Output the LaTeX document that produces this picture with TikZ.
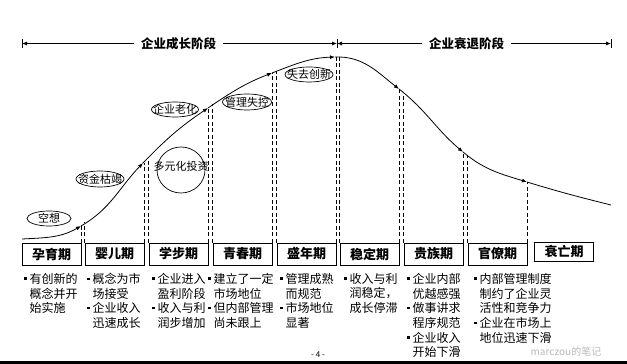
\documentclass[tikz,border=0pt]{standalone}
\usepackage{fontspec}
\setmainfont{Noto Sans CJK SC}
\usetikzlibrary{arrows.meta,shapes.geometric}
\newcommand\mybul{\makebox[5.5pt][l]{\raisebox{3.5pt}{\rule{2.4pt}{2.4pt}}}}
\newcommand\myind{\hspace*{5.5pt}}
\begin{document}
\begin{tikzpicture}[x=1pt,y=1pt,
  curveline/.style={line width=0.8pt},
  tipped/.style={curveline,-{Latex[length=5pt,width=4pt]}},
  guide/.style={line width=0.7pt, dash pattern=on 4pt off 2.5pt},
  stagebox/.style={draw, line width=0.9pt, minimum width=59pt, minimum height=22pt, inner sep=0pt, font=\fontsize{13}{13}\selectfont\bfseries},
  oval/.style={draw, ellipse, line width=0.7pt, inner sep=0pt},
  ovaltext/.style={inner sep=0pt, font=\fontsize{11}{11}\selectfont},
  desc/.style={anchor=north west, inner sep=0pt, align=left, font=\fontsize{12}{14.7}\selectfont},
  phase/.style={inner xsep=7pt, inner ysep=0pt, font=\fontsize{12.5}{12.5}\selectfont\bfseries},
  dimline/.style={line width=0.8pt, -{Latex[length=5pt,width=4pt]}},
  dimbar/.style={line width=0.8pt},
]
\useasboundingbox (0,0) rectangle (627,364);
\fill[white] (0,0) rectangle (627,364);
\fill[black] (0,0) rectangle (627,3);

% top phase dimension lines
\coordinate (L) at (22,320.5);
\coordinate (M) at (337,320.5);
\coordinate (R) at (611,320.5);
\node[phase] (T1) at (178.5,320.5) {企业成长阶段};
\node[phase] (T2) at (466.5,320.5) {企业衰退阶段};
\draw[dimline] (T1.west) -- (L);
\draw[dimline] (T1.east) -- (M);
\draw[dimline] (T2.west) -- (M);
\draw[dimline] (T2.east) -- (R);
\draw[dimbar] ([yshift=-4.5pt]L) -- ([yshift=4.5pt]L);
\draw[dimbar] ([yshift=-4.5pt]M) -- ([yshift=4.5pt]M);
\draw[dimbar] ([yshift=-4.5pt]R) -- ([yshift=4.5pt]R);

% curve points
\coordinate (P0) at (22,125);
\coordinate (P1) at (81,138);
\coordinate (P2) at (143,201);
\coordinate (P3) at (208,256);
\coordinate (P4) at (272,291);
\coordinate (P5) at (335,307);
\coordinate (P6) at (399,275);
\coordinate (P7) at (463,212);
\coordinate (P8) at (527,182);
\coordinate (P9) at (611,159);

\draw[tipped] (P0) to[out=3,in=210] (P1);
\draw[tipped] (P1) to[out=30,in=226] (P2);
\draw[tipped] (P2) to[out=46,in=214] (P3);
\draw[tipped] (P3) to[out=34,in=201] (P4);
\draw[tipped] (P4) to[out=21,in=182] (P5);
\draw[tipped] (P5) to[out=2,in=142] (P6);
\draw[tipped] (P6) to[out=-38,in=140] (P7);
\draw[tipped] (P7) to[out=-40,in=163] (P8);
\draw[curveline] (P8) to[out=-17,in=166] (P9);

% stage boxes
\node[stagebox] (B1) at (51.5,110) {孕育期};
\node[stagebox] (B2) at (114.5,110) {婴儿期};
\node[stagebox] (B3) at (178.5,110) {学步期};
\node[stagebox] (B4) at (242.5,110) {青春期};
\node[stagebox] (B5) at (306.5,110) {盛年期};
\node[stagebox] (B6) at (369.5,110) {稳定期};
\node[stagebox] (B7) at (433.5,110) {贵族期};
\node[stagebox] (B8) at (497.5,110) {官僚期};
\node[stagebox, minimum height=19pt] (B9) at (564,112.5) {衰亡期};

% right-hand guide start points on the curve
\coordinate (Q1) at (86,142);
\coordinate (Q2) at (149,207);
\coordinate (Q3) at (213,259.5);
\coordinate (Q4) at (277,293);
\coordinate (Q5) at (340,307);
\coordinate (Q6) at (404,270);
\coordinate (Q7) at (468,209);

% dashed guides
\draw[guide] (B1.north east) -- (B1.north east |- P1);
\draw[guide] (B2.north west) -- (B2.north west |- Q1);
\draw[guide] (B2.north east) -- (B2.north east |- P2);
\draw[guide] (B3.north west) -- (B3.north west |- Q2);
\draw[guide] (B3.north east) -- (B3.north east |- P3);
\draw[guide] (B4.north west) -- (B4.north west |- Q3);
\draw[guide] (B4.north east) -- (B4.north east |- P4);
\draw[guide] (B5.north west) -- (B5.north west |- Q4);
\draw[guide] (B5.north east) -- (B5.north east |- P5);
\draw[guide] (B6.north west) -- (B6.north west |- Q5);
\draw[guide] (B6.north east) -- (B6.north east |- P6);
\draw[guide] (B7.north west) -- (B7.north west |- Q6);
\draw[guide] (B7.north east) -- (B7.north east |- P7);
\draw[guide] (B8.north west) -- (B8.north west |- Q7);
\draw[guide] (B8.north east) -- (B8.north east |- P8);

% ovals
\node[oval, minimum width=44pt, minimum height=15pt] (E1) at (49,145.5) {};
\node[ovaltext] (E1t) at (E1) {空想};
\node[oval, minimum width=48pt, minimum height=16pt] (E2) at (100,185) {};
\node[ovaltext] (E2t) at (E2) {资金枯竭};
\node[oval, minimum width=48pt, minimum height=46pt] (E3) at (181,194) {};
\node[ovaltext] (E3t) at (181,198) {多元化投资};
\node[oval, minimum width=47pt, minimum height=15pt] (E4) at (175,254.5) {};
\node[ovaltext] (E4t) at (E4) {企业老化};
\node[oval, minimum width=49pt, minimum height=16pt] (E5) at (247,262) {};
\node[ovaltext] (E5t) at (E5) {管理失控};
\node[oval, minimum width=48pt, minimum height=15pt] (E6) at (309,289.5) {};
\node[ovaltext] (E6t) at (E6) {失去创新};

% descriptions
\node[desc] (D1) at (24,91) {\mybul 有创新的\\ \myind 概念并开\\ \myind 始实施};
\node[desc] (D2) at (87,91) {\mybul 概念为市\\ \myind 场接受\\ \mybul 企业收入\\ \myind 迅速成长};
\node[desc] (D3) at (152,91) {\mybul 企业进入\\ \myind 盈利阶段\\ \mybul 收入与利\\ \myind 润步增加};
\node[desc] (D4) at (208,91) {\mybul 建立了一定\\ \myind 市场地位\\ \mybul 但内部管理\\ \myind 尚未跟上};
\node[desc] (D5) at (280,91) {\mybul 管理成熟\\ \myind 而规范\\ \mybul 市场地位\\ \myind 显著};
\node[desc] (D6) at (344,91) {\mybul 收入与利\\ \myind 润稳定，\\ \myind 成长停滞};
\node[desc] (D7) at (407,91) {\mybul 企业内部\\ \myind 优越感强\\ \mybul 做事讲求\\ \myind 程序规范\\ \mybul 企业收入\\ \myind 开始下滑};
\node[desc] (D8) at (474,91) {\mybul 内部管理制度\\ \myind 制约了企业灵\\ \myind 活性和竞争力\\ \mybul 企业在市场上\\ \myind 地位迅速下滑};

% watermark and page number
\node[inner sep=0pt, text=gray!55, font=\fontsize{10}{10}\selectfont] (W) at (566,12) {marczou的笔记};
\node[inner sep=0pt, font=\fontsize{8}{8}\selectfont] (PG) at (318,9) {- 4 -};
\end{tikzpicture}
\end{document}
